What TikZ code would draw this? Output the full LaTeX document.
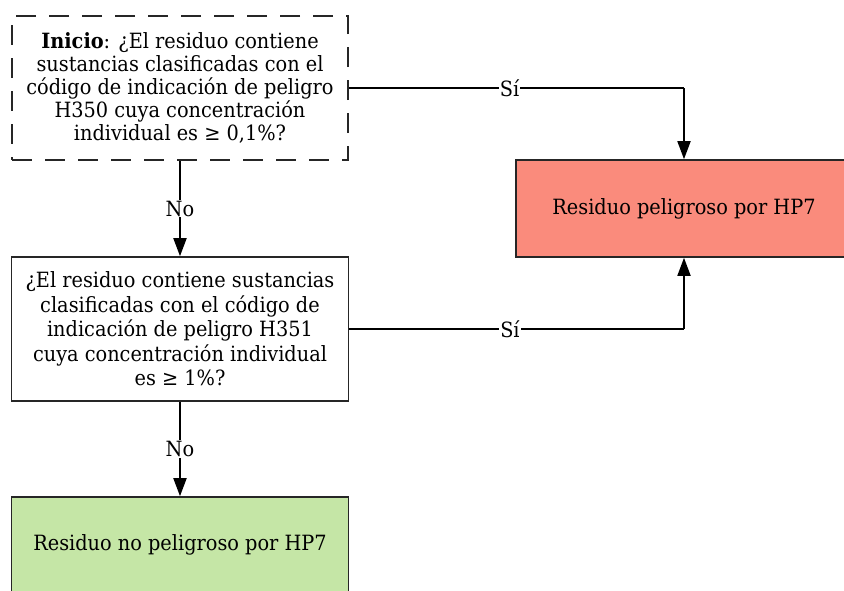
\documentclass[tikz,border=0pt]{standalone}
\usepackage{fontspec}
\setmainfont{DejaVu Serif}[FakeStretch=0.92]
\usetikzlibrary{arrows.meta}
\definecolor{redfill}{RGB}{250,139,124}
\definecolor{greenfill}{RGB}{197,230,166}
\begin{document}
\begin{tikzpicture}[x=1pt,y=1pt,
  every node/.style={font=\fontsize{21}{24.5}\selectfont},
  box/.style={draw=black!85,line width=1.6pt,align=center,inner sep=0pt},
  dashbox/.style={box,dash pattern=on 20pt off 13pt},
  conn/.style={draw=black,line width=1.8pt},
  arr/.style={conn,-{Triangle[length=18pt,width=13pt]}},
  lbl/.style={fill=white,inner sep=1pt}]
\useasboundingbox (0,0) rectangle (844,-590);
\node[dashbox,minimum width=336pt,minimum height=144pt,font=\fontsize{21}{23}\selectfont] (q1) at (180,-88)
  {\textbf{Inicio}: ¿El residuo contiene\\ sustancias clasificadas con el\\ código de indicación de peligro\\ H350 cuya concentración\\ individual es ≥ 0,1\%?};
\node[box,minimum width=337pt,minimum height=144pt] (q2) at (180,-329)
  {¿El residuo contiene sustancias\\ clasificadas con el código de\\ indicación de peligro H351\\ cuya concentración individual\\ es ≥ 1\%?};
\node[box,fill=greenfill,minimum width=337pt,minimum height=96pt] (no) at (180,-545)
  {Residuo no peligroso por HP7};
\node[box,fill=redfill,minimum width=336pt,minimum height=97pt] (si) at (684,-208.5)
  {Residuo peligroso por HP7};
\draw[arr] (q1.south) -- node[lbl]{No} (q2.north);
\draw[arr] (q2.south) -- node[lbl]{No} (no.north);
\coordinate (c1) at (q1.east -| si.north);
\coordinate (c2) at (q2.east -| si.south);
\draw[conn] (q1.east) -- node[lbl,pos=0.48]{Sí} (c1);
\draw[arr] (c1) -- (si.north);
\draw[conn] (q2.east) -- node[lbl,pos=0.48]{Sí} (c2);
\draw[arr] (c2) -- (si.south);
\end{tikzpicture}
\end{document}
